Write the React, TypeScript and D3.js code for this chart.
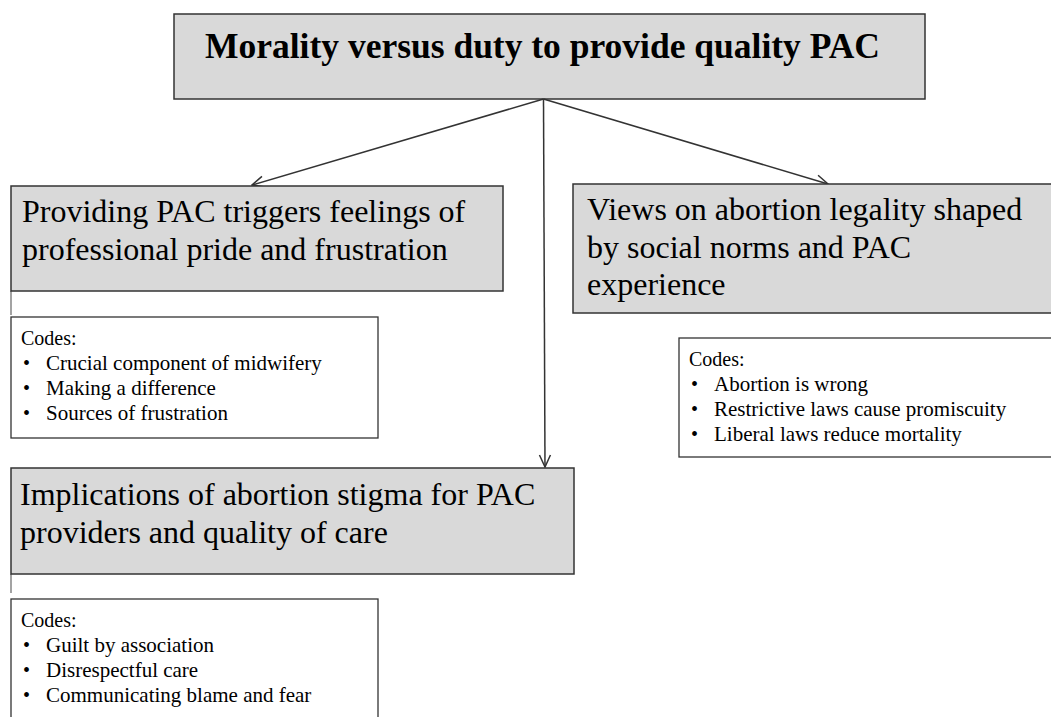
import * as d3 from 'd3';

const rootTitle = 'Morality versus duty to provide quality PAC';

const themeNames = ['left', 'right', 'bottom'];
const themeLines = [
  ['Providing PAC triggers feelings of', 'professional pride and frustration'],
  ['Views on abortion legality shaped', 'by social norms and PAC', 'experience'],
  ['Implications of abortion stigma for PAC', 'providers and quality of care'],
];
const codeLabel = 'Codes:';
const themeCodes = [
  ['Crucial component of midwifery', 'Making a difference', 'Sources of frustration'],
  ['Abortion is wrong', 'Restrictive laws cause promiscuity', 'Liberal laws reduce mortality'],
  ['Guilt by association', 'Disrespectful care', 'Communicating blame and fear'],
];

// layout, in page pixels
const rootBox = { x: 174, y: 14, w: 751, h: 85 };
const themeBoxes = [
  { x: 11, y: 186, w: 492, h: 105, tx: 22, ty: 222, tail: 315 },
  { x: 573, y: 184, w: 490, h: 129, tx: 587, ty: 220, tail: 0 },
  { x: 11, y: 468, w: 563, h: 106, tx: 20, ty: 505, tail: 593 },
];
const codeBoxes = [
  { x: 11, y: 317, w: 367, h: 121 },
  { x: 679, y: 338, w: 390, h: 119 },
  { x: 11, y: 599, w: 367, h: 140 },
];
const arrowEnds = [
  [252, 185],
  [828, 184],
  [545, 467],
];

const W = 1051;
const H = 717;
const stroke = '#333';
const serif = '"Liberation Serif", "Times New Roman", serif';

export default function App() {
  const origin: [number, number] = [rootBox.x + rootBox.w / 2 - 6, rootBox.y + rootBox.h];
  const link = d3.line();

  return (
    <svg width={W} height={H} style={{ position: 'absolute', left: 0, top: 0, background: '#fff' }}
      fontFamily={serif}>
      <defs>
        <marker id="open" viewBox="0 0 14 14" refX="13" refY="7" markerWidth="14" markerHeight="14"
          markerUnits="userSpaceOnUse" orient="auto">
          <path d="M1,1.5 L13,7 L1,12.5" fill="none" stroke={stroke} strokeWidth={1.5} />
        </marker>
      </defs>

      <rect x={rootBox.x} y={rootBox.y} width={rootBox.w} height={rootBox.h}
        fill="#d9d9d9" stroke={stroke} strokeWidth={1.5} />
      <text x={542.5} y={rootBox.y + 44} textAnchor="middle" textLength={675}
        lengthAdjust="spacingAndGlyphs" fontSize={36} fontWeight="bold" fill="#000">{rootTitle}</text>

      {arrowEnds.map((end, i) => (
        <path key={'a' + i} d={link([origin, end as [number, number]]) as string}
          fill="none" stroke={stroke} strokeWidth={1.5} markerEnd="url(#open)" />
      ))}

      {themeNames.map((name, i) => {
        const b = themeBoxes[i];
        const c = codeBoxes[i];
        return (
          <g key={name}>
            {b.tail > 0 && (
              <line x1={b.x} x2={b.x} y1={b.y + b.h} y2={b.tail} stroke="#666" strokeWidth={1.2} />
            )}
            <rect x={b.x} y={b.y} width={b.w} height={b.h} fill="#d9d9d9" stroke={stroke} strokeWidth={1.5} />
            {themeLines[i].map((ln, j) => (
              <text key={j} x={b.tx} y={b.ty + j * 37.5} fontSize={32} fill="#000">{ln}</text>
            ))}
            <rect x={c.x} y={c.y} width={c.w} height={c.h} fill="#fff" stroke={stroke} strokeWidth={1.3} />
            <text x={c.x + 10} y={c.y + 28} fontSize={20} fill="#000">{codeLabel}</text>
            {themeCodes[i].map((code, j) => (
              <g key={j}>
                <text x={c.x + 12} y={c.y + 53 + j * 25} fontSize={20} fill="#000">•</text>
                <text x={c.x + 35} y={c.y + 53 + j * 25} fontSize={21} fill="#000">{code}</text>
              </g>
            ))}
          </g>
        );
      })}
    </svg>
  );
}
